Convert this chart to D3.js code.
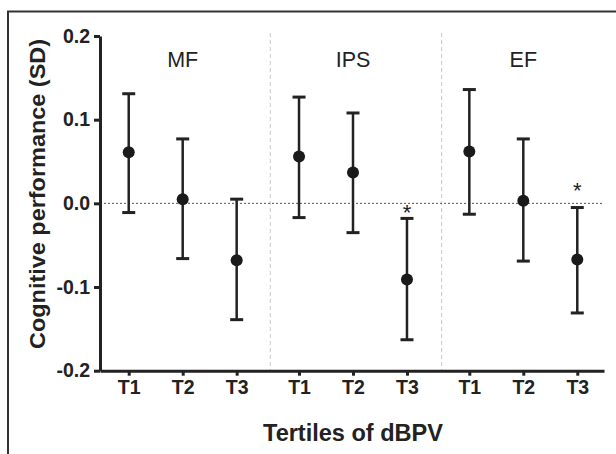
<!DOCTYPE html>
<html>
<head>
<meta charset="utf-8">
<script src="https://cdn.jsdelivr.net/npm/d3@7"></script>
<style>
  body { margin: 0; background: #fff; }
  text { font-family: "Liberation Sans", Arial, Helvetica, sans-serif; }
</style>
</head>
<body>
<div id="chart"></div>
<script>
// data
const groups = ['MF', 'IPS', 'EF'];
const tertiles = ['T1', 'T2', 'T3'];
const means = [0.061, 0.005, -0.068, 0.056, 0.037, -0.091, 0.062, 0.003, -0.067];
const upper = [0.131, 0.077, 0.005, 0.127, 0.108, -0.018, 0.136, 0.077, -0.005];
const lower = [-0.011, -0.066, -0.139, -0.017, -0.035, -0.163, -0.013, -0.069, -0.131];
// significance marks and the value they sit at (null = none)
const starAt = [null, null, null, null, null, -0.009, null, null, 0.017];
const yTicks = [-0.2, -0.1, 0.0, 0.1, 0.2];

function main() {
    const W = 616, H = 454;
    const groupStep = 3.155; // distance between groups, in tertile units

    const svg = d3.select('#chart')
        .append('svg')
        .attr('width', W)
        .attr('height', H);

    // outer frame (only top and left show)
    svg.append('path')
        .attr('d', 'M8,470 L8,11.5 L630,11.5')
        .attr('fill', 'none')
        .attr('stroke', '#333')
        .attr('stroke-width', 2);

    const data = means.map((m, i) => ({
        group: Math.floor(i / 3),
        t: i % 3,
        pos: Math.floor(i / 3) * groupStep + (i % 3),
        mean: m,
        hi: upper[i],
        lo: lower[i],
        star: starAt[i]
    }));

    const x = d3.scaleLinear()
        .domain([-0.532, 2 * groupStep + 2 + 0.495])
        .range([100, 604]);

    const y = d3.scaleLinear()
        .domain([-0.2, 0.2])
        .range([370.7, 36]);

    // group separators
    [1, 2].forEach(g => {
        const sx = x(g * groupStep - 0.532 + (g == 1 ? 0 : 0.02));
        svg.append('line')
            .attr('x1', sx)
            .attr('x2', sx)
            .attr('y1', 33)
            .attr('y2', y(-0.2))
            .attr('stroke', '#c8c8c8')
            .attr('stroke-width', 1)
            .attr('stroke-dasharray', '4,3');
    });

    // zero line
    svg.append('line')
        .attr('x1', 100)
        .attr('x2', 604)
        .attr('y1', y(0))
        .attr('y2', y(0))
        .attr('stroke', '#555')
        .attr('stroke-width', 1)
        .attr('stroke-dasharray', '2,2');

    // group labels
    svg.selectAll('.glabel')
        .data(groups)
        .enter()
        .append('text')
        .attr('class', 'glabel')
        .text(d => d)
        .attr('x', (d, i) => x(i * groupStep + 1))
        .attr('y', 67)
        .attr('text-anchor', 'middle')
        .attr('font-size', 21.5)
        .attr('fill', '#222');

    // error bars
    const bars = svg.selectAll('.bar')
        .data(data)
        .enter()
        .append('g')
        .attr('class', 'bar');

    bars.append('line')
        .attr('x1', d => x(d.pos))
        .attr('x2', d => x(d.pos))
        .attr('y1', d => y(d.hi))
        .attr('y2', d => y(d.lo))
        .attr('stroke', '#222')
        .attr('stroke-width', 2.5);

    ['hi', 'lo'].forEach(k => {
        bars.append('line')
            .attr('x1', d => x(d.pos) - 6.5)
            .attr('x2', d => x(d.pos) + 6.5)
            .attr('y1', d => y(d[k]))
            .attr('y2', d => y(d[k]))
            .attr('stroke', '#222')
            .attr('stroke-width', 3);
    });

    bars.append('circle')
        .attr('cx', d => x(d.pos))
        .attr('cy', d => y(d.mean))
        .attr('r', 6)
        .attr('fill', '#1a1a1a');

    bars.filter(d => d.star != null)
        .append('text')
        .text('*')
        .attr('x', d => x(d.pos))
        .attr('y', d => y(d.star) + 9)
        .attr('text-anchor', 'middle')
        .attr('font-size', 22)
        .attr('fill', '#222');

    // y axis
    const yAxis = d3.axisLeft(y)
        .tickValues(yTicks)
        .tickFormat(d => d3.format('.1f')(d).replace('\u2212', '-'))
        .tickSize(6)
        .tickSizeOuter(0)
        .tickPadding(4);

    const gy = svg.append('g')
        .attr('transform', 'translate(100,0)')
        .call(yAxis);

    // x axis
    const xAxis = d3.axisBottom(x)
        .tickValues(data.map(d => d.pos))
        .tickFormat((d, i) => tertiles[i % 3])
        .tickSize(5)
        .tickSizeOuter(0)
        .tickPadding(4);

    const gx = svg.append('g')
        .attr('transform', 'translate(0,' + y(-0.2) + ')')
        .call(xAxis);

    [gx, gy].forEach(g => {
        g.select('.domain').attr('stroke', '#222').attr('stroke-width', 3);
        g.selectAll('.tick line').attr('stroke', '#222').attr('stroke-width', 3);
        g.selectAll('.tick text')
            .attr('font-size', 19.5)
            .attr('font-weight', 'bold')
            .attr('fill', '#222')
            .style('font-family', '"Liberation Sans", Arial, sans-serif');
    });

    // axis titles
    svg.append('text')
        .text('Tertiles of dBPV')
        .attr('x', 353)
        .attr('y', 440.5)
        .attr('text-anchor', 'middle')
        .attr('font-size', 23)
        .attr('font-weight', 'bold')
        .attr('textLength', 180)
        .attr('lengthAdjust', 'spacingAndGlyphs')
        .attr('fill', '#222');

    svg.append('text')
        .text('Cognitive performance (SD)')
        .attr('transform', 'translate(45,194) rotate(-90)')
        .attr('text-anchor', 'middle')
        .attr('font-size', 22.5)
        .attr('font-weight', 'bold')
        .attr('textLength', 310)
        .attr('lengthAdjust', 'spacingAndGlyphs')
        .attr('fill', '#222');
}

main();
</script>
</body>
</html>
